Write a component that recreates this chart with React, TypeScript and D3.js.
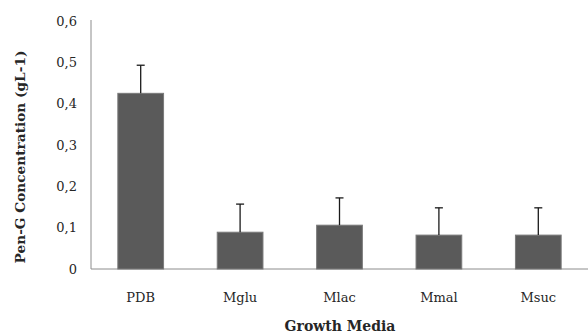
import React from "react";
import * as d3 from "d3";

const categories = ["PDB", "Mglu", "Mlac", "Mmal", "Msuc"];
const concentration = [0.425, 0.089, 0.106, 0.082, 0.082];
const errorPlus = [0.068, 0.068, 0.066, 0.066, 0.066];
const yTicks = [0, 0.1, 0.2, 0.3, 0.4, 0.5, 0.6];

const W = 588;
const H = 334;
const margin = { left: 91, right: 0, top: 21, bottom: 65 };
const FONT = "'DejaVu Serif', 'Liberation Serif', serif";

export default function App() {
  const x = d3
    .scaleBand<string>()
    .domain(categories)
    .range([margin.left, W - margin.right])
    .paddingInner(0.54)
    .paddingOuter(0.27);
  const y = d3
    .scaleLinear()
    .domain([0, 0.6])
    .range([H - margin.bottom, margin.top]);
  const fmt = (v: number) => (v === 0 ? "0" : d3.format(".1f")(v).replace(".", ","));
  const y0 = y(0);
  const cap = 4;

  return (
    <svg
      width={W}
      height={H}
      style={{ position: "absolute", left: 0, top: 0, background: "#fff" }}
      fontFamily={FONT}
    >
      {/* axes */}
      <line x1={margin.left} x2={margin.left} y1={margin.top - 1} y2={y0} stroke="#8c8c8c" strokeWidth={1} />
      <line x1={margin.left} x2={W} y1={y0} y2={y0} stroke="#8c8c8c" strokeWidth={1} />

      {yTicks.map((t) => (
        <text key={t} x={77} y={y(t)} dy="0.35em" textAnchor="end" fontSize={13} fill="#262626">
          {fmt(t)}
        </text>
      ))}

      {/* bars with positive error bars */}
      {categories.map((c, i) => {
        const bx = x(c)!;
        const bw = x.bandwidth();
        const cx = bx + bw / 2;
        const top = y(concentration[i]);
        const et = y(concentration[i] + errorPlus[i]);
        return (
          <g key={c}>
            <rect x={bx} y={top} width={bw} height={y0 - top} fill="#5a5a5a" stroke="#7a7a7a" strokeWidth={1} />
            <line x1={cx} x2={cx} y1={top} y2={et} stroke="#1a1a1a" strokeWidth={1.3} />
            <line x1={cx - cap} x2={cx + cap} y1={et} y2={et} stroke="#1a1a1a" strokeWidth={1.3} />
            <text x={cx} y={297} dy="0.35em" textAnchor="middle" fontSize={13} fill="#262626">
              {c}
            </text>
          </g>
        );
      })}

      <text x={340} y={326} dy="0.35em" textAnchor="middle" fontSize={14} fontWeight="bold" fill="#262626">
        Growth Media
      </text>
      <text
        transform={`translate(20,${157}) rotate(-90)`}
        textAnchor="middle"
        dy="0.35em"
        fontSize={13.7}
        fontWeight="bold"
        fill="#262626"
      >
        Pen-G Concentration (gL-1)
      </text>
    </svg>
  );
}
